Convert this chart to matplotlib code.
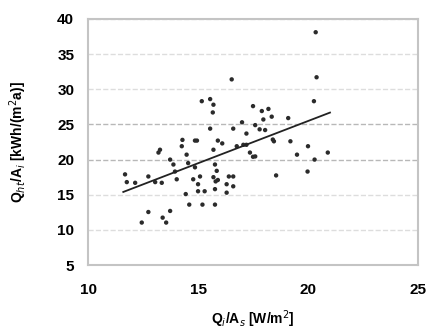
import matplotlib.pyplot as plt
import numpy as np

plt.rcParams['font.family'] = ['Liberation Sans', 'DejaVu Sans']

# scatter data
q_int = [20.35, 20.39, 16.53, 15.17, 15.55, 15.70, 15.67, 20.27, 17.50, 17.90,
         18.20, 18.35, 17.97, 19.10, 17.00, 17.60, 15.55, 16.60, 17.80, 18.05,
         17.20, 18.40, 18.45, 19.20, 14.29, 14.86, 14.95, 15.90, 16.10, 14.26,
         13.27, 13.20, 13.73, 14.48, 14.55, 13.88, 14.86, 15.77, 15.85, 14.03,
         14.78, 15.00, 15.09, 15.70, 15.80, 15.90, 16.40, 16.60, 16.30, 16.60,
         15.30, 15.00, 15.77, 16.30, 14.44, 14.60, 15.20, 15.77, 11.68, 11.76,
         12.14, 12.74, 13.05, 13.35, 12.74, 13.73, 12.44, 13.39, 13.55, 16.76,
         17.06, 17.20, 17.36, 17.50, 18.55, 20.00, 19.50, 20.90, 20.30, 19.98,
         13.95, 15.70, 17.60]
q_heat = [38.1, 31.7, 31.4, 28.3, 28.6, 27.8, 26.7, 28.3, 27.6, 26.9,
          27.2, 26.1, 25.7, 25.9, 25.3, 24.9, 24.4, 24.4, 24.3, 24.2,
          23.7, 22.85, 22.6, 22.6, 22.8, 22.7, 22.7, 22.7, 22.3, 21.9,
          21.4, 21.0, 20.0, 20.7, 19.5, 19.3, 18.9, 19.3, 18.4, 17.2,
          17.2, 16.5, 17.6, 17.5, 16.9, 17.1, 17.6, 17.6, 16.5, 16.2,
          15.5, 15.5, 15.8, 15.3, 15.1, 13.6, 13.6, 13.6, 17.9, 16.8,
          16.7, 17.6, 16.8, 16.7, 12.55, 12.7, 11.05, 11.75, 11.05, 21.9,
          22.1, 22.1, 21.0, 20.4, 17.75, 21.9, 20.7, 21.0, 20.0, 18.3,
          18.3, 21.4, 20.45]

# linear trend line
trend_slope = 1.2
trend_intercept = 1.48
trend_x = [11.6, 21.0]

fig, ax = plt.subplots(figsize=(4.34, 3.31), dpi=100)
fig.subplots_adjust(left=0.203, right=0.963, top=0.943, bottom=0.199)

ax.scatter(q_int, q_heat, s=10, color='#2b2b2b', edgecolors='none', zorder=3)
tx = np.array(trend_x)
ax.plot(tx, trend_slope * tx + trend_intercept, color='#222222', lw=1.3, zorder=4)

ax.set_xlim(10, 25)
ax.set_ylim(5, 40)
ax.set_xticks([10, 15, 20, 25])
ax.set_yticks(range(5, 41, 5))
ax.yaxis.grid(True, linestyle='--', color='#dddddd', lw=1)
for val, gl in zip(range(5, 41, 5), ax.get_ygridlines()):
    if val in (20, 25):
        gl.set_color('#b8b8b8')
ax.set_axisbelow(True)

for sp in ax.spines.values():
    sp.set_color('#c4c4c4')
    sp.set_linewidth(1.5)
ax.tick_params(length=0, labelsize=11)
ax.tick_params(axis='x', pad=13)
ax.tick_params(axis='y', pad=10)
for lbl in ax.get_xticklabels() + ax.get_yticklabels():
    lbl.set_fontweight('bold')

ax.set_xlabel('Q$_i$/A$_s$ [W/m$^2$]', fontsize=10, fontweight='bold', labelpad=8)
ax.set_ylabel('Q$_{ht}$/A$_i$ [kWh/(m$^2$a)]', fontsize=10, fontweight='bold', labelpad=20)

plt.savefig('out.png', dpi=100)
